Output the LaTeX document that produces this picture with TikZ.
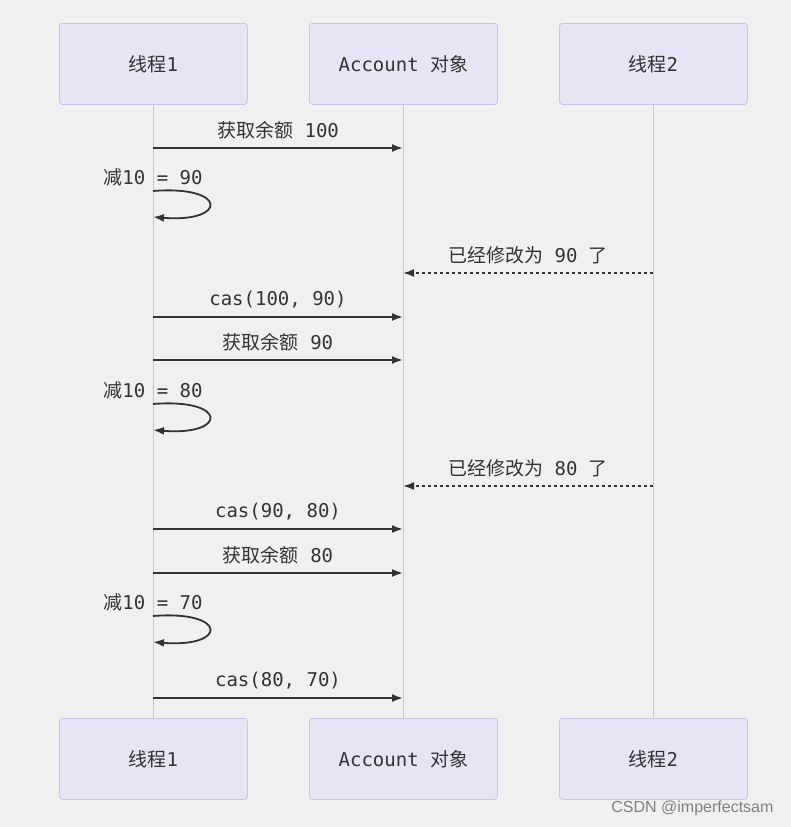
\documentclass[tikz,border=0pt]{standalone}
\usepackage{fontspec}
\setmonofont{DejaVu Sans Mono}
\newfontfamily\cjk{Noto Sans CJK SC}
\newfontfamily\wmfont{Liberation Sans}
\usetikzlibrary{arrows.meta, positioning}

\definecolor{bgcol}{HTML}{F0F0F0}
\definecolor{actfill}{HTML}{E6E4F5}
\definecolor{actline}{HTML}{C9C2EE}
\definecolor{lifecol}{HTML}{C8C8C8}
\definecolor{inkcol}{HTML}{333333}

\begin{document}
\begin{tikzpicture}[x=1pt, y=-1pt,
      actor/.style={draw=actline, fill=actfill, rounded corners=3pt, line width=0.8pt,
                    minimum width=188pt, minimum height=81pt, inner sep=0pt,
                    text=inkcol, font=\ttfamily\fontsize{19}{21}\selectfont},
      life/.style={draw=lifecol, line width=1pt},
      msg/.style={draw=inkcol, line width=1.8pt, -{Latex[length=11pt, width=8pt]}},
      reply/.style={msg, dash pattern=on 3pt off 3pt},
      lbl/.style={text=inkcol, inner sep=0pt, font=\ttfamily\fontsize{19}{21}\selectfont}]
    \useasboundingbox[fill=bgcol] (0,0) rectangle (791,827);
    % actors
    \node[actor, anchor=north west] (t1)  at (59,23)  {{\cjk 线程}1};
    \node[actor, anchor=north west] (acc) at (309,23) {Account {\cjk 对象}};
    \node[actor, anchor=north west] (t2)  at (559,23) {{\cjk 线程}2};
    \node[actor, anchor=north west] (t1b)  at (59,718)  {{\cjk 线程}1};
    \node[actor, anchor=north west] (accb) at (309,718) {Account {\cjk 对象}};
    \node[actor, anchor=north west] (t2b)  at (559,718) {{\cjk 线程}2};
    \draw[life] (t1) -- (t1b);
    \draw[life] (acc) -- (accb);
    \draw[life] (t2) -- (t2b);
    % points on the lifelines
    \coordinate (a1) at (153,148);  \coordinate (b1) at (403,148);
    \coordinate (s1) at (153,191);  \coordinate (e1) at (153,217);
    \coordinate (c1) at (653,273);  \coordinate (b2) at (403,273);
    \coordinate (a3) at (153,317);  \coordinate (b3) at (403,317);
    \coordinate (a4) at (153,360);  \coordinate (b4) at (403,360);
    \coordinate (s2) at (153,404);  \coordinate (e2) at (153,430);
    \coordinate (c5) at (653,486);  \coordinate (b5) at (403,486);
    \coordinate (a6) at (153,529);  \coordinate (b6) at (403,529);
    \coordinate (a7) at (153,573);  \coordinate (b7) at (403,573);
    \coordinate (s3) at (153,616);  \coordinate (e3) at (153,642);
    \coordinate (a8) at (153,698);  \coordinate (b8) at (403,698);
    % messages
    \draw[msg] (a1) -- node[lbl, above=8pt] {{\cjk 获取余额} 100} (b1);
    \node[lbl] (m1) at (153,177) {{\cjk 减}10 = 90};
    \draw[msg] (s1) .. controls +(75,-6) and +(75,6) .. (e1);
    \draw[reply] (c1) -- node[lbl, above=8pt] {{\cjk 已经修改为} 90 {\cjk 了}} (b2);
    \draw[msg] (a3) -- node[lbl, above=8pt] {cas(100, 90)} (b3);
    \draw[msg] (a4) -- node[lbl, above=8pt] {{\cjk 获取余额} 90} (b4);
    \node[lbl] (m2) at (153,390) {{\cjk 减}10 = 80};
    \draw[msg] (s2) .. controls +(75,-6) and +(75,6) .. (e2);
    \draw[reply] (c5) -- node[lbl, above=8pt] {{\cjk 已经修改为} 80 {\cjk 了}} (b5);
    \draw[msg] (a6) -- node[lbl, above=8pt] {cas(90, 80)} (b6);
    \draw[msg] (a7) -- node[lbl, above=8pt] {{\cjk 获取余额} 80} (b7);
    \node[lbl] (m3) at (153,602) {{\cjk 减}10 = 70};
    \draw[msg] (s3) .. controls +(75,-6) and +(75,6) .. (e3);
    \draw[msg] (a8) -- node[lbl, above=8pt] {cas(80, 70)} (b8);
    % watermark
    \node[text=gray, font=\wmfont\fontsize{16}{18}\selectfont, anchor=east] (wm) at (777,808) {CSDN @imperfectsam};
  \end{tikzpicture}
\end{document}
